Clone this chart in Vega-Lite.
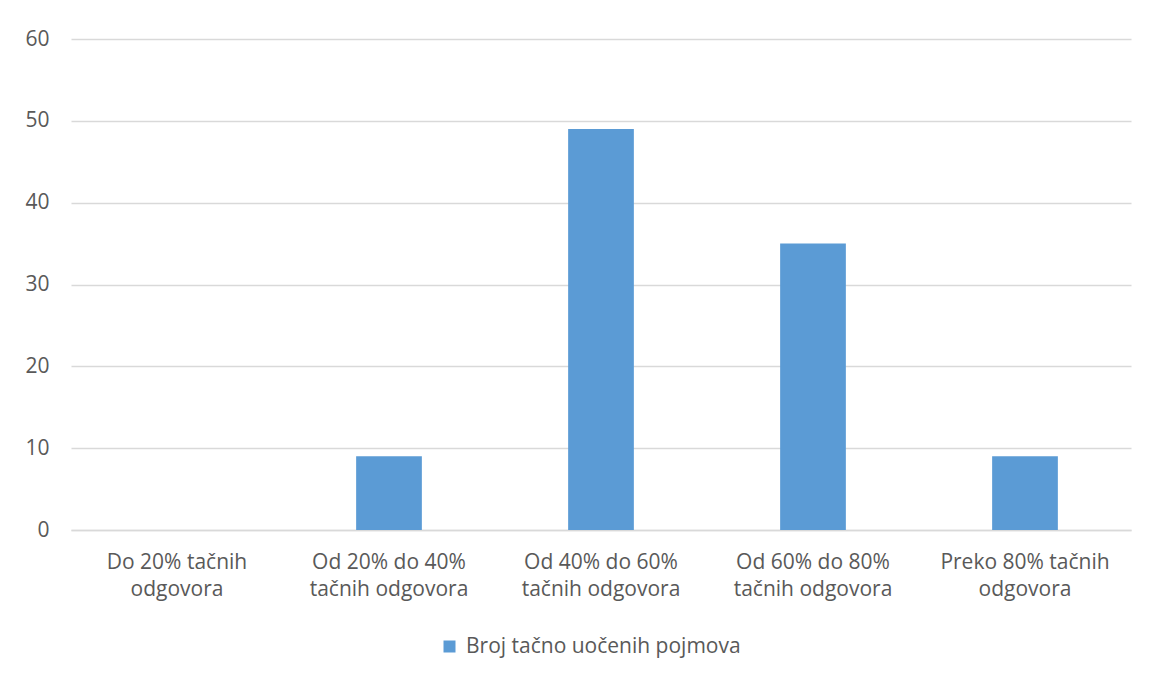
{
  "$schema": "https://vega.github.io/schema/vega-lite/v6.json",
  "width": 1060,
  "height": 491,
  "autosize": {"type": "none"},
  "padding": {"left": 71, "top": 39, "right": 18, "bottom": 144},
  "background": "white",
  "config": {
    "view": {"stroke": null},
    "font": "Open Sans"
  },
  "data": {
    "values": [
      {"cat": "Do 20% tačnih|odgovora", "value": 0, "series": "Broj tačno uočenih pojmova"},
      {"cat": "Od 20% do 40%|tačnih odgovora", "value": 9, "series": "Broj tačno uočenih pojmova"},
      {"cat": "Od 40% do 60%|tačnih odgovora", "value": 49, "series": "Broj tačno uočenih pojmova"},
      {"cat": "Od 60% do 80%|tačnih odgovora", "value": 35, "series": "Broj tačno uočenih pojmova"},
      {"cat": "Preko 80% tačnih|odgovora", "value": 9, "series": "Broj tačno uočenih pojmova"}
    ]
  },
  "mark": {"type": "bar"},
  "encoding": {
    "x": {
      "field": "cat",
      "type": "nominal",
      "sort": null,
      "scale": {"paddingInner": 0.69, "paddingOuter": 0.345},
      "axis": {
        "title": null,
        "labelAngle": 0,
        "labelExpr": "split(datum.label, '|')",
        "labelFontSize": 21,
        "labelColor": "#595959",
        "labelPadding": 21,
        "labelLineHeight": 27,
        "ticks": false,
        "domainColor": "#d9d9d9",
        "domainWidth": 1.3,
        "labelLimit": 400
      }
    },
    "y": {
      "field": "value",
      "type": "quantitative",
      "scale": {"domain": [0, 60]},
      "axis": {
        "title": null,
        "values": [0, 10, 20, 30, 40, 50, 60],
        "labelFontSize": 21,
        "labelColor": "#595959",
        "labelPadding": 22,
        "ticks": false,
        "domain": false,
        "gridColor": "#d9d9d9",
        "gridWidth": 1.3
      }
    },
    "color": {
      "field": "series",
      "type": "nominal",
      "scale": {"range": ["#5b9bd5"]},
      "legend": {
        "title": null,
        "orient": "none",
        "legendX": 368,
        "legendY": 597,
        "direction": "horizontal",
        "symbolType": "square",
        "symbolSize": 144,
        "symbolStrokeWidth": 0,
        "symbolOffset": 0,
        "labelOffset": 6,
        "labelFontSize": 21,
        "labelColor": "#595959",
        "labelLimit": 500,
        "padding": 0
      }
    }
  }
}
